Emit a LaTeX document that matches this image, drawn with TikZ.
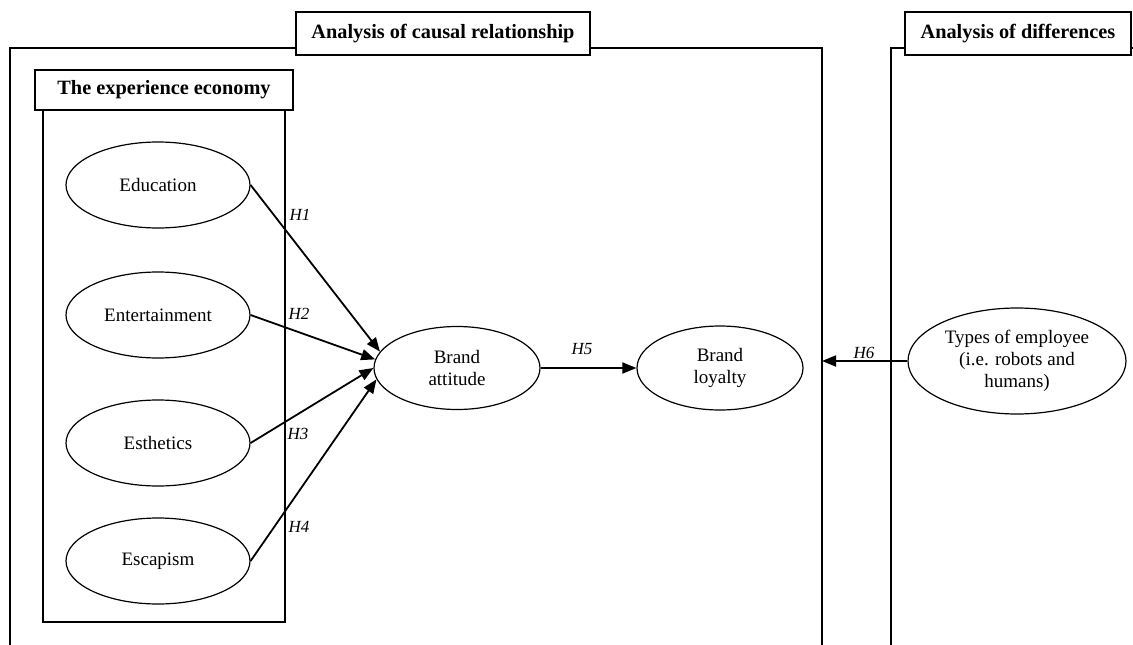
\documentclass[tikz,border=0pt]{standalone}
\usepackage{fontspec}
\setmainfont{Liberation Serif}
\usetikzlibrary{shapes.geometric,arrows.meta}

\begin{document}
\begin{tikzpicture}[x=1pt,y=-1pt,
    every node/.style={font=\fontsize{19}{22}\selectfont},
    construct/.style={draw,ellipse,line width=1.2pt,inner sep=0pt,align=center,
        minimum width=184pt,minimum height=86pt},
    header/.style={draw,fill=white,line width=1.3pt,inner sep=0pt,
        font=\fontsize{20.3}{22}\selectfont\bfseries},
    frame/.style={line width=1.3pt},
    link/.style={line width=1.8pt,-{Triangle[length=14pt,width=11pt]}},
    hyp/.style={font=\fontsize{17}{20}\selectfont\itshape}]
    \useasboundingbox (0,0) rectangle (1133,645);
    % frames
    \draw [frame] (10,645) -- (10,48) -- (822,48) -- (822,645);
    \draw [frame] (891,645) -- (891,48) -- (1133,48);
    \draw [frame] (43,110) rectangle (285,622);
    \node [header,minimum width=294pt,minimum height=43pt] (causal) at (443,33.5) {Analysis of causal relationship};
    \node [header,minimum width=226pt,minimum height=43pt] (differences) at (1018,33.5) {Analysis of differences};
    \node [header,minimum width=258pt,minimum height=40pt] (economy) at (164,90) {The experience economy};
    % constructs
    \node [construct] (education) at (158,185) {Education};
    \node [construct] (entertainment) at (158,315) {Entertainment};
    \node [construct] (esthetics) at (158,443) {Esthetics};
    \node [construct] (escapism) at (158,561) {Escapism};
    \node [construct,minimum width=166pt,minimum height=83pt] (attitude) at (457,368) {Brand\\attitude};
    \node [construct,minimum width=166pt,minimum height=84pt] (loyalty) at (720,368) {Brand\\loyalty};
    \node [construct,minimum width=218pt,minimum height=106pt] (employee) at (1017,361) {Types of employee\\(i.e. robots and\\humans)};
    \coordinate (edge) at (822,361);
    % hypotheses
    \draw [link] (education.east) -- (attitude.168);
    \draw [link] (entertainment.east) -- (attitude.174);
    \draw [link] (esthetics.east) -- (attitude.180);
    \draw [link] (escapism.east) -- (attitude.188);
    \draw [link] (attitude.east) -- (loyalty.west);
    \draw [link] (employee.west) -- (edge);
    \node [hyp] (h1) at (300,215) {H1};
    \node [hyp] (h2) at (299,314) {H2};
    \node [hyp] (h3) at (298,434) {H3};
    \node [hyp] (h4) at (299,527) {H4};
    \node [hyp] (h5) at (582,349) {H5};
    \node [hyp] (h6) at (864,353) {H6};
\end{tikzpicture}
\end{document}
